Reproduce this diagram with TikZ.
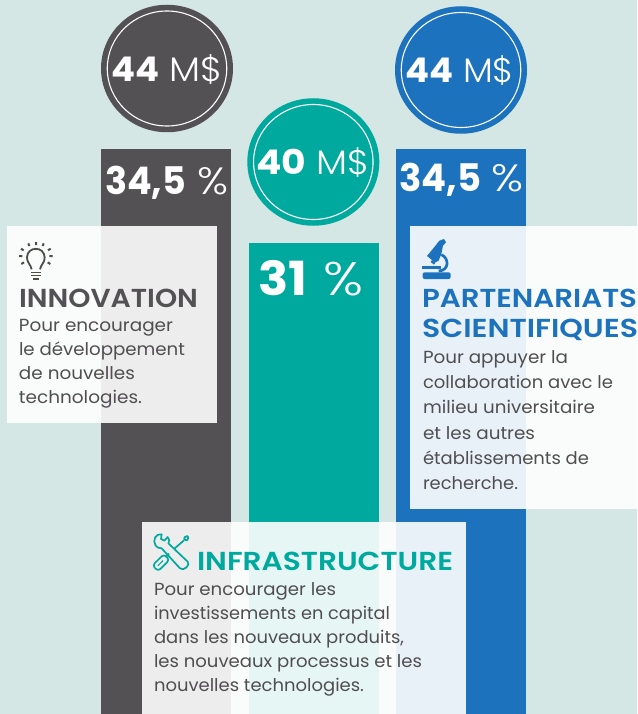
\documentclass[tikz,border=0pt]{standalone}
\usepackage{fontspec}
\usepackage{graphicx}
\usetikzlibrary{shapes.geometric}
\setmainfont{Poppins}
\newfontfamily\lightf{Poppins Light}
\newfontfamily\boldf{Poppins SemiBold}
\newfontfamily\heavyf{Poppins Bold}
\definecolor{bgc}{HTML}{D5E7E4}
\definecolor{darkc}{HTML}{545154}
\definecolor{tealc}{HTML}{00A99D}
\definecolor{bluec}{HTML}{1C72BD}
\definecolor{bodyc}{HTML}{504E50}
\definecolor{iconc}{HTML}{4D4C48}
\newcommand{\fitw}[2]{\resizebox{#1pt}{\height}{#2}}
\tikzset{
  x=1pt,y=-1pt,
  bar/.style={inner sep=0pt,outer sep=0pt,anchor=north west},
  disc/.style={ellipse,inner sep=0pt,outer sep=0pt,minimum width=132pt,minimum height=127.5pt},
  ring/.style={ellipse,draw=white,line width=1.1pt,fill=none,inner sep=0pt,minimum width=119.5pt,minimum height=115pt},
  panel/.style={fill=white,fill opacity=0.9,inner sep=0pt,outer sep=0pt,anchor=north west},
  txt/.style={anchor=base west,inner sep=0pt,outer sep=0pt},
  big/.style={txt,text=white,font=\heavyf\fontsize{34}{34}\selectfont},
  bigl/.style={txt,text=white,font=\lightf\fontsize{34}{34}\selectfont},
  bar big/.style={txt,text=white,font=\heavyf\fontsize{38}{38}\selectfont},
  bar bigl/.style={txt,text=white,font=\lightf\fontsize{38}{38}\selectfont},
  head/.style={txt,font=\boldf\fontsize{26}{26}\selectfont},
  body/.style={txt,text=bodyc,font=\rmfamily\fontsize{17.5}{17.5}\selectfont},
}
\begin{document}
\begin{tikzpicture}
\useasboundingbox (0,0) rectangle (637,714);
\fill[bgc] (0,0) rectangle (637,714);
% bars
\node[bar,fill=darkc,minimum width=130pt,minimum height=565pt] (bara) at (101,149) {};
\node[bar,fill=tealc,minimum width=130pt,minimum height=471pt] (barb) at (249,243) {};
\node[bar,fill=bluec,minimum width=130pt,minimum height=565pt] (barc) at (396,149) {};
% discs
\node[disc,fill=darkc] (da) at (167,68.5) {};
\node[ring] (ra) at (167,68.5) {};
\node[disc,fill=tealc] (db) at (313.3,162) {};
\node[ring] (rb) at (313.3,162) {};
\node[disc,fill=bluec] (dc) at (461,70) {};
\node[ring] (rc) at (461,70) {};
% panels
\node[panel,minimum width=210pt,minimum height=197pt] (pa) at (7,226) {};
\node[panel,minimum width=227pt,minimum height=283pt] (pc) at (410,226) {};
\node[panel,minimum width=324pt,minimum height=192pt] (pb) at (142,522) {};
% figures
\node[big]  (t1) at (111.5,82) {\fitw{48}{44}};
\node[bigl] (t2) at (169,82) {\fitw{53}{M\$}};
\node[big]  (t3) at (256.5,175) {\fitw{50}{40}};
\node[bigl] (t4) at (316,175) {\fitw{53}{M\$}};
\node[big]  (t5) at (405,83) {\fitw{48}{44}};
\node[bigl] (t6) at (463,83) {\fitw{51}{M\$}};
\node[bar big]  (t7) at (105,194) {\fitw{81}{34,5}};
\node[bar bigl] (t8) at (197,194) {\fitw{31}{\%}};
\node[bar big]  (t9) at (399.5,191) {\fitw{82}{34,5}};
\node[bar bigl] (t10) at (491,191) {\fitw{32}{\%}};
\node[bar big,font=\heavyf\fontsize{47}{47}\selectfont]  (t11) at (258,295) {\fitw{49}{31}};
\node[bar bigl,font=\lightf\fontsize{47}{47}\selectfont] (t12) at (323,295) {\fitw{40}{\%}};
% innovation
\node[head,text=darkc] (h1) at (19,307) {\fitw{179}{INNOVATION}};
\node[body] (b1) at (19,331) {\fitw{154}{Pour encourager}};
\node[body] (b2) at (19,355) {\fitw{166}{le développement}};
\node[body] (b3) at (19,379) {\fitw{116}{de nouvelles}};
\node[body] (b4) at (19,403) {\fitw{123}{technologies.}};
% partenariats
\node[head,text=bluec] (h2) at (422,307) {\fitw{215}{PARTENARIATS}};
\node[head,text=bluec] (h3) at (422,337) {\fitw{216}{SCIENTIFIQUES}};
\node[body] (c1) at (423,363) {\fitw{145}{Pour appuyer la}};
\node[body] (c2) at (423,388) {\fitw{190}{collaboration avec le}};
\node[body] (c3) at (423,413) {\fitw{172}{milieu universitaire}};
\node[body] (c4) at (423,439) {\fitw{112}{et les autres}};
\node[body] (c5) at (423,464) {\fitw{166}{établissements de}};
\node[body] (c6) at (423,489) {\fitw{95}{recherche.}};
% infrastructure
\node[head,text=tealc] (h4) at (197,570) {\fitw{256}{INFRASTRUCTURE}};
\node[body] (d1) at (154,595) {\fitw{182}{Pour encourager les}};
\node[body] (d2) at (154,619) {\fitw{236}{investissements en capital}};
\node[body] (d3) at (154,643) {\fitw{250}{dans les nouveaux produits,}};
\node[body] (d4) at (154,667) {\fitw{268}{les nouveaux processus et les}};
\node[body] (d5) at (154,691) {\fitw{210}{nouvelles technologies.}};
% bulb icon (units: 1/3 px)
\begin{scope}[shift={(10,235)},scale=1/3,draw=iconc,line width=1.8pt]
  \draw (65,103) .. controls (62,88) and (50,82) .. (51,67) .. controls (52,33) and (103,33) .. (104,67) .. controls (105,82) and (93,88) .. (90,103);
  \draw[line width=1.6pt] (63,112) -- (92,112) (63,122) -- (92,122);
  \draw[line width=1.5pt] (68,132) -- (87,132);
  \draw[line width=2pt] (78,21) -- (78,30) (55,25) -- (58,33) (101,25) -- (98,33)
    (33,41) -- (41,46) (122,41) -- (114,46) (27,63) -- (37,63) (118,63) -- (128,63)
    (34,87) -- (42,82) (121,87) -- (113,82);
\end{scope}
% microscope icon (units: 1/3 px)
\begin{scope}[shift={(412,230)},scale=1/3]
  \fill[bluec,rounded corners=2pt] (32,127) rectangle (116,147);
  \fill[bluec] (30,107) rectangle (88,118);
  \fill[bluec] (45,78) -- (68,50) -- (82,32) -- (96,27) -- (102,37) -- (93,47) -- (88,72) -- (80,92) -- (68,98) -- (60,90) -- cycle;
  \fill[bluec] (60,90) -- (70,98) -- (66,104) -- (56,96) -- cycle;
  \draw[bluec,line width=2.7pt] (88,74) .. controls (112,84) and (112,122) .. (80,123);
\end{scope}
% tools icon (units: 1/3 px)
\begin{scope}[shift={(145,525)},scale=1/3,draw=tealc,line width=1.7pt,line join=round]
  \draw (50,28) .. controls (33,24) and (21,45) .. (32,62) .. controls (35,67) and (42,70) .. (50,70)
    -- (105,130) .. controls (115,140) and (138,120) .. (128,110)
    -- (70,55) .. controls (74,48) and (74,44) .. (68,36) -- (58,47) -- (48,42) -- cycle;
  \draw (120,36) -- (127,33) -- (130,38) -- (127,45) -- (122,46) -- (117,41) -- cycle;
  \draw (117,46) -- (87,72);
  \draw (62,96) -- (72,86);
  \begin{scope}[shift={(48,113)},rotate=45]
    \draw[rounded corners=3pt] (-24,-12) rectangle (24,12);
    \draw[line width=1pt] (-13,0) -- (9,0);
  \end{scope}
\end{scope}
\end{tikzpicture}
\end{document}
